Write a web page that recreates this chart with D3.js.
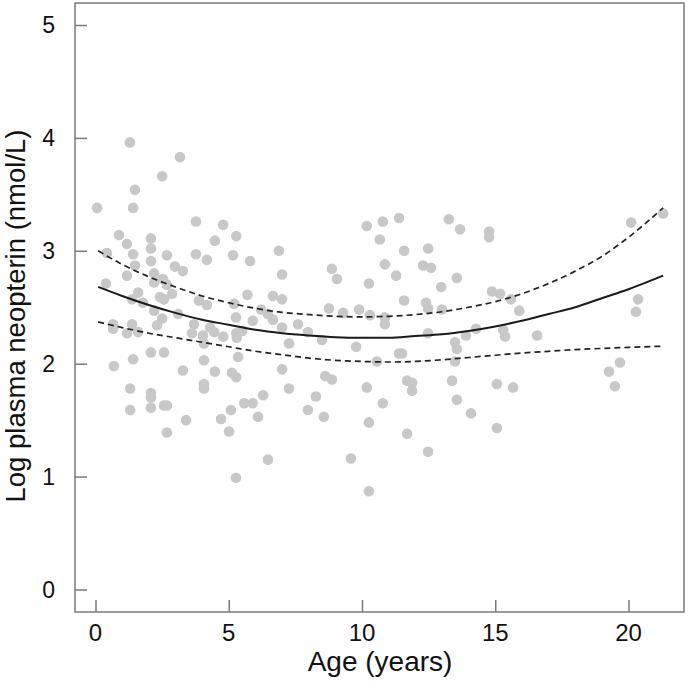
<!DOCTYPE html>
<html>
<head>
<meta charset="utf-8">
<script src="https://cdn.jsdelivr.net/npm/d3@7"></script>
<style>
  html, body { margin: 0; padding: 0; background: #fff; }
  svg { display: block; font-family: "Liberation Sans", Arial, sans-serif; }
</style>
</head>
<body>
<svg id="chart" width="688" height="681"></svg>
<script>
// ---- data ----
const ageYears = [
  0.06,1.29,3.17,2.50,1.48,1.41,3.77,4.79,0.88,2.08,4.48,5.28,1.18,2.08,0.43,1.41,2.68,3.77,4.18,5.16,
  2.08,1.48,2.98,3.28,2.20,1.18,2.53,2.20,2.68,0.39,1.60,2.42,2.87,2.57,1.37,1.78,2.20,2.50,2.31,3.10,
  3.88,4.18,5.20,5.27,3.70,0.66,0.66,1.37,1.18,1.60,3.62,4.03,4.30,4.45,4.79,5.28,4.07,2.08,2.57,1.41,
  0.69,4.07,3.28,4.48,5.12,5.28,5.35,1.30,2.08,2.08,4.07,4.07,1.30,2.08,2.57,2.68,3.40,4.71,5.08,5.01,
  2.68,5.27,10.18,10.78,10.67,6.88,5.80,7.00,8.87,9.06,10.86,10.26,5.70,6.66,7.00,8.76,9.29,9.89,10.30,10.86,
  10.86,6.21,6.47,5.90,6.66,7.00,7.60,5.30,5.50,7.97,7.26,8.50,9.78,10.56,7.00,8.62,8.87,7.26,10.18,6.29,
  8.27,5.58,5.90,6.10,7.97,8.57,10.78,10.26,6.47,9.58,10.26,11.39,13.26,13.68,14.77,14.77,11.58,12.48,12.29,12.59,
  11.28,13.56,12.97,14.88,15.18,15.59,11.58,12.40,12.48,13.00,15.90,14.28,13.90,15.30,15.37,16.57,12.48,13.49,13.56,11.39,
  11.50,13.49,11.69,11.88,13.38,15.06,15.67,11.88,13.56,14.09,15.06,11.69,12.48,21.30,20.10,20.36,20.28,19.68,19.27,19.49
];
const logNeopterin = [
  3.38,3.96,3.83,3.66,3.54,3.38,3.26,3.23,3.14,3.11,3.09,3.13,3.06,3.02,2.98,2.97,2.96,2.97,2.92,2.96,
  2.91,2.87,2.86,2.82,2.80,2.78,2.75,2.72,2.70,2.71,2.63,2.59,2.62,2.57,2.57,2.54,2.47,2.40,2.34,2.44,
  2.56,2.52,2.53,2.41,2.35,2.35,2.31,2.35,2.27,2.28,2.27,2.25,2.32,2.28,2.24,2.27,2.18,2.10,2.10,2.04,
  1.98,2.03,1.94,1.93,1.92,1.88,2.06,1.78,1.74,1.70,1.82,1.78,1.59,1.61,1.63,1.63,1.50,1.51,1.59,1.40,
  1.39,0.99,3.22,3.26,3.10,3.00,2.91,2.79,2.84,2.75,2.88,2.71,2.61,2.60,2.57,2.49,2.45,2.48,2.43,2.41,
  2.35,2.48,2.44,2.38,2.39,2.32,2.35,2.23,2.29,2.28,2.18,2.21,2.15,2.02,1.95,1.89,1.86,1.78,1.79,1.72,
  1.71,1.65,1.65,1.53,1.59,1.53,1.65,1.48,1.15,1.16,0.87,3.29,3.28,3.19,3.17,3.12,3.00,3.02,2.87,2.85,
  2.78,2.76,2.68,2.64,2.62,2.57,2.56,2.54,2.49,2.48,2.47,2.31,2.25,2.30,2.24,2.25,2.27,2.19,2.13,2.09,
  2.09,2.02,1.85,1.83,1.85,1.82,1.79,1.76,1.68,1.56,1.43,1.38,1.22,3.33,3.25,2.57,2.46,2.01,1.93,1.80
];

// fitted curve and its confidence band, read at these ages
const curveAge   = [0.1, 1, 2, 3, 4, 5, 6, 7, 8, 9, 10, 11, 12, 13, 14, 15, 16, 17, 18, 19, 20, 21.3];
const fitValue   = [2.68,2.60,2.52,2.45,2.39,2.345,2.30,2.27,2.25,2.235,2.23,2.23,2.245,2.26,2.29,2.33,2.38,2.44,2.50,2.58,2.66,2.78];
const upperBand  = [3.00,2.88,2.77,2.68,2.60,2.54,2.49,2.455,2.435,2.42,2.415,2.42,2.435,2.46,2.50,2.55,2.62,2.71,2.82,2.95,3.12,3.38];
const lowerBand  = [2.37,2.32,2.27,2.23,2.19,2.15,2.11,2.08,2.05,2.03,2.02,2.015,2.02,2.035,2.055,2.075,2.095,2.11,2.125,2.135,2.145,2.155];

const xTicks = [0, 5, 10, 15, 20];
const yTicks = [0, 1, 2, 3, 4, 5];
const xTitle = "Age (years)";
const yTitle = "Log plasma neopterin (nmol/L)";

// ---- drawing ----
const svg = d3.select("#chart");
const frame = { left: 75, right: 684, top: 3, bottom: 612 };

const x = d3.scaleLinear().domain([0, 20]).range([95.5, 628.5]);
const y = d3.scaleLinear().domain([0, 5]).range([589.5, 25]);

const pts = ageYears.map((a, i) => ({ a, v: logNeopterin[i] }));

// points
svg.append("g")
  .selectAll("circle")
  .data(pts)
  .join("circle")
  .attr("cx", d => x(d.a))
  .attr("cy", d => y(d.v))
  .attr("r", 5.3)
  .attr("fill", "#c8c8c8");

// curves
const line = d3.line().x(d => x(d[0])).y(d => y(d[1])).curve(d3.curveMonotoneX);
const mk = arr => curveAge.map((a, i) => [a, arr[i]]);

svg.append("path").attr("d", line(mk(upperBand)))
  .attr("fill", "none").attr("stroke", "#222").attr("stroke-width", 1.7)
  .attr("stroke-dasharray", "6,4");
svg.append("path").attr("d", line(mk(lowerBand)))
  .attr("fill", "none").attr("stroke", "#222").attr("stroke-width", 1.7)
  .attr("stroke-dasharray", "6,4");
svg.append("path").attr("d", line(mk(fitValue)))
  .attr("fill", "none").attr("stroke", "#1a1a1a").attr("stroke-width", 2);

// frame
svg.append("rect")
  .attr("x", frame.left).attr("y", frame.top)
  .attr("width", frame.right - frame.left).attr("height", frame.bottom - frame.top)
  .attr("fill", "none").attr("stroke", "#7a7a7a").attr("stroke-width", 1.5);

// x axis (ticks inward)
const xAxis = d3.axisTop(x).tickValues(xTicks).tickSize(12).tickFormat(d3.format("d"));
const gx = svg.append("g").attr("transform", `translate(0,${frame.bottom})`).call(xAxis);
gx.select(".domain").remove();
gx.selectAll(".tick line").attr("stroke", "#7a7a7a").attr("stroke-width", 1.5);
gx.selectAll(".tick text").remove();
svg.append("g").selectAll("text").data(xTicks).join("text")
  .attr("x", d => x(d)).attr("y", 641)
  .attr("text-anchor", "middle")
  .attr("font-size", 24).attr("fill", "#111")
  .text(d => d);

// y axis (ticks inward)
const yAxis = d3.axisRight(y).tickValues(yTicks).tickSize(12).tickFormat(d3.format("d"));
const gy = svg.append("g").attr("transform", `translate(${frame.left},0)`).call(yAxis);
gy.select(".domain").remove();
gy.selectAll(".tick line").attr("stroke", "#7a7a7a").attr("stroke-width", 1.5);
gy.selectAll(".tick text").remove();
svg.append("g").selectAll("text").data(yTicks).join("text")
  .attr("x", 55).attr("y", d => y(d) + 8)
  .attr("text-anchor", "end")
  .attr("font-size", 23).attr("fill", "#111")
  .text(d => d);

// titles
svg.append("text")
  .attr("x", 380).attr("y", 671)
  .attr("text-anchor", "middle")
  .attr("font-size", 28).attr("fill", "#111")
  .text(xTitle);

svg.append("text")
  .attr("transform", "translate(25,316) rotate(-90)")
  .attr("text-anchor", "middle")
  .attr("font-size", 27.5).attr("fill", "#111")
  .text(yTitle);
</script>
</body>
</html>
